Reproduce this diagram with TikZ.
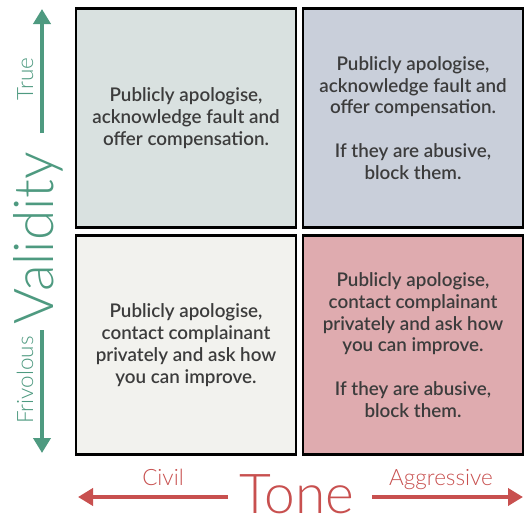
\documentclass[tikz,border=0pt]{standalone}
\usepackage{fontspec}
\setmainfont{Lato}[BoldFont={Lato Semibold}]
\newfontfamily\lightfont{Lato Light}
\usetikzlibrary{arrows.meta}
\definecolor{tlc}{HTML}{D9E1E0}
\definecolor{trc}{HTML}{C9CFDA}
\definecolor{blc}{HTML}{F2F2EE}
\definecolor{brc}{HTML}{DFABAF}
\definecolor{gr}{HTML}{4E9A80}
\definecolor{rd}{HTML}{C8504F}
\definecolor{txt}{HTML}{3C3C3C}
\tikzset{
  quad/.style={draw=black, line width=2.5pt, minimum width=220pt, minimum height=219pt, inner sep=0pt,
    text=txt, align=center, font=\bfseries\fontsize{18.8}{21.8}\selectfont},
  garrow/.style={draw=gr, line width=4pt, -{Triangle[length=15pt,width=17pt]}},
  rarrow/.style={draw=rd, line width=4pt, -{Triangle[length=15pt,width=17pt]}},
  biglab/.style={font=\lightfont\fontsize{55}{55}\selectfont, inner sep=0pt, anchor=base},
  smalllab/.style={font=\lightfont\fontsize{22.5}{22.5}\selectfont, inner sep=0pt, anchor=base},
}
\begin{document}
\begin{tikzpicture}[x=1pt,y=-1pt]
\useasboundingbox[fill=white] (0,0) rectangle (531,525);
\node[quad, fill=tlc] (tl) at (186,118) {Publicly apologise,\\acknowledge fault and\\offer compensation.};
\node[quad, fill=trc] (tr) at (413,118) {Publicly apologise,\\acknowledge fault and\\offer compensation.\\[21.8pt]If they are abusive,\\block them.};
\node[quad, fill=blc] (bl) at (186,345) {Publicly apologise,\\contact complainant\\privately and ask how\\you can improve.};
\node[quad, fill=brc] (br) at (413,345) {Publicly apologise,\\contact complainant\\privately and ask how\\you can improve.\\[21.8pt]If they are abusive,\\block them.};
% vertical axis
\node[biglab, text=gr, rotate=90] (val) at (53,238) {Validity};
\node[smalllab, text=gr, rotate=90] (true) at (33,79) {True};
\node[smalllab, text=gr, rotate=90] (friv) at (33,380) {Frivolous};
\coordinate (vt0) at (42,133);
\coordinate (vt1) at (42,9);
\coordinate (vb0) at (42,330);
\coordinate (vb1) at (42,453);
\draw[garrow] (vt0) -- (vt1);
\draw[garrow] (vb0) -- (vb1);
% horizontal axis
\node[biglab, text=rd] (tone) at (297,513) {Tone};
\node[smalllab, text=rd] (civil) at (163,485) {Civil};
\node[smalllab, text=rd] (aggr) at (441,485) {Aggressive};
\coordinate (hl0) at (228,497);
\coordinate (hl1) at (78,497);
\coordinate (hr0) at (372,497);
\coordinate (hr1) at (523,497);
\draw[rarrow] (hl0) -- (hl1);
\draw[rarrow] (hr0) -- (hr1);
\end{tikzpicture}
\end{document}
